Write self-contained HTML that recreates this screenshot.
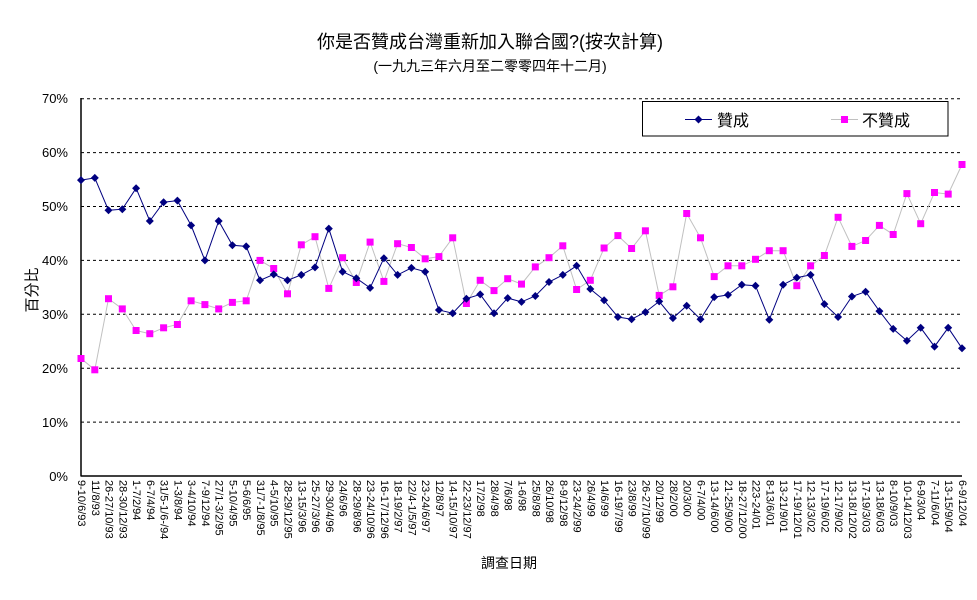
<!DOCTYPE html>
<html><head><meta charset="utf-8"><style>
html,body{margin:0;padding:0;background:#fff;}
svg{display:block;font-family:"Liberation Sans","Noto Sans CJK TC",sans-serif;}
</style></head><body>
<svg width="977" height="600" viewBox="0 0 977 600" xmlns="http://www.w3.org/2000/svg">
<defs>
<marker id="dia" markerUnits="userSpaceOnUse" markerWidth="10" markerHeight="10" refX="5" refY="5" viewBox="0 0 10 10"><path d="M5 1 L9 5 L5 9 L1 5 Z" fill="#000080"/></marker>
<marker id="sq" markerUnits="userSpaceOnUse" markerWidth="8" markerHeight="8" refX="4" refY="4" viewBox="0 0 8 8"><rect x="0.5" y="0.5" width="7" height="7" fill="#ff00ff"/></marker>
</defs>
<text x="490" y="48" font-size="18" text-anchor="middle">你是否贊成台灣重新加入聯合國?(按次計算)</text>
<text x="490" y="71" font-size="14" text-anchor="middle">(一九九三年六月至二零零四年十二月)</text>
<g stroke="#000" stroke-dasharray="3,3" stroke-width="1">
<line x1="81" y1="98.7" x2="962" y2="98.7"/><line x1="81" y1="152.6" x2="962" y2="152.6"/><line x1="81" y1="206.5" x2="962" y2="206.5"/><line x1="81" y1="260.4" x2="962" y2="260.4"/><line x1="81" y1="314.3" x2="962" y2="314.3"/><line x1="81" y1="368.2" x2="962" y2="368.2"/><line x1="81" y1="422.1" x2="962" y2="422.1"/>
</g>
<line x1="81" y1="98" x2="81" y2="476.5" stroke="#000" stroke-width="1.5"/>
<line x1="81" y1="476" x2="962" y2="476" stroke="#000" stroke-width="1.5"/>
<g font-size="13" text-anchor="end">
<text x="68" y="103">70%</text><text x="68" y="157">60%</text><text x="68" y="211">50%</text><text x="68" y="265">40%</text><text x="68" y="319">30%</text><text x="68" y="373">20%</text><text x="68" y="427">10%</text><text x="68" y="481">0%</text>
</g>
<text transform="translate(37,290) rotate(-90)" font-size="15" text-anchor="middle">百分比</text>
<text x="509" y="568" font-size="14" text-anchor="middle">調查日期</text>
<polyline fill="none" stroke="#c0c0c0" stroke-width="1" marker-start="url(#sq)" marker-mid="url(#sq)" marker-end="url(#sq)" points="81.0,358.5 94.8,369.8 108.5,298.7 122.3,308.9 136.1,330.5 149.8,333.7 163.6,327.8 177.4,324.5 191.1,300.8 204.9,304.6 218.7,308.9 232.4,302.4 246.2,300.8 260.0,260.4 273.7,268.5 287.5,293.8 301.3,244.8 315.0,236.7 328.8,288.4 342.6,257.7 356.3,282.5 370.1,242.1 383.9,281.4 397.6,243.7 411.4,247.5 425.2,258.8 438.9,256.6 452.7,237.8 466.4,303.5 480.2,280.3 494.0,290.6 507.7,278.7 521.5,284.1 535.3,266.9 549.0,257.7 562.8,245.8 576.6,289.5 590.3,280.3 604.1,248.0 617.9,235.6 631.6,248.5 645.4,230.8 659.2,295.4 672.9,286.8 686.7,213.5 700.5,237.8 714.2,276.6 728.0,265.8 741.8,265.8 755.5,259.3 769.3,250.7 783.1,250.7 796.8,285.7 810.6,265.8 824.4,255.5 838.1,217.3 851.9,246.4 865.6,240.5 879.4,225.4 893.2,234.5 906.9,193.6 920.7,223.7 934.5,192.5 948.2,194.1 962.0,164.5"/>
<polyline fill="none" stroke="#000080" stroke-width="1" marker-start="url(#dia)" marker-mid="url(#dia)" marker-end="url(#dia)" points="81.0,180.1 94.8,177.9 108.5,210.3 122.3,209.2 136.1,188.2 149.8,221.0 163.6,202.2 177.4,200.6 191.1,225.4 204.9,260.4 218.7,221.0 232.4,245.3 246.2,246.4 260.0,280.3 273.7,274.4 287.5,280.3 301.3,274.9 315.0,267.4 328.8,228.6 342.6,271.7 356.3,278.2 370.1,287.9 383.9,258.2 397.6,274.9 411.4,267.9 425.2,271.7 438.9,310.0 452.7,313.2 466.4,298.7 480.2,294.4 494.0,313.2 507.7,298.1 521.5,301.9 535.3,296.0 549.0,282.0 562.8,274.9 576.6,265.8 590.3,289.0 604.1,300.3 617.9,317.0 631.6,319.2 645.4,312.1 659.2,301.4 672.9,318.1 686.7,305.7 700.5,319.2 714.2,297.1 728.0,294.9 741.8,284.7 755.5,285.7 769.3,319.7 783.1,284.7 796.8,277.6 810.6,274.9 824.4,304.1 838.1,317.0 851.9,296.5 865.6,291.7 879.4,311.1 893.2,328.9 906.9,340.7 920.7,327.8 934.5,346.6 948.2,327.8 962.0,348.3"/>
<rect x="642.5" y="101.5" width="305.5" height="34.5" fill="#fff" stroke="#000" stroke-width="1"/>
<line x1="685" y1="119.5" x2="712" y2="119.5" stroke="#000080"/>
<path d="M698.5 115.5 L702.5 119.5 L698.5 123.5 L694.5 119.5 Z" fill="#000080"/>
<text x="717" y="126" font-size="16">贊成</text>
<line x1="831" y1="119.5" x2="858" y2="119.5" stroke="#c0c0c0"/>
<rect x="841" y="116" width="7" height="7" fill="#ff00ff"/>
<text x="862" y="126" font-size="16">不贊成</text>
<g font-size="11" dominant-baseline="central">
<text transform="translate(81.0,480) rotate(90)">9-10/6/93</text>
<text transform="translate(94.8,480) rotate(90)">11/8/93</text>
<text transform="translate(108.5,480) rotate(90)">26-27/10/93</text>
<text transform="translate(122.3,480) rotate(90)">28-30/12/93</text>
<text transform="translate(136.1,480) rotate(90)">1-7/2/94</text>
<text transform="translate(149.8,480) rotate(90)">6-7/4/94</text>
<text transform="translate(163.6,480) rotate(90)">31/5-1/6-/94</text>
<text transform="translate(177.4,480) rotate(90)">1-3/8/94</text>
<text transform="translate(191.1,480) rotate(90)">3-4/10/94</text>
<text transform="translate(204.9,480) rotate(90)">7-9/12/94</text>
<text transform="translate(218.7,480) rotate(90)">27/1-3/2/95</text>
<text transform="translate(232.4,480) rotate(90)">5-10/4/95</text>
<text transform="translate(246.2,480) rotate(90)">5-6/6/95</text>
<text transform="translate(260.0,480) rotate(90)">31/7-1/8/95</text>
<text transform="translate(273.7,480) rotate(90)">4-5/10/95</text>
<text transform="translate(287.5,480) rotate(90)">28-29/12/95</text>
<text transform="translate(301.3,480) rotate(90)">13-15/3/96</text>
<text transform="translate(315.0,480) rotate(90)">25-27/3/96</text>
<text transform="translate(328.8,480) rotate(90)">29-30/4/96</text>
<text transform="translate(342.6,480) rotate(90)">24/6/96</text>
<text transform="translate(356.3,480) rotate(90)">28-29/8/96</text>
<text transform="translate(370.1,480) rotate(90)">23-24/10/96</text>
<text transform="translate(383.9,480) rotate(90)">16-17/12/96</text>
<text transform="translate(397.6,480) rotate(90)">18-19/2/97</text>
<text transform="translate(411.4,480) rotate(90)">22/4-1/5/97</text>
<text transform="translate(425.2,480) rotate(90)">23-24/6/97</text>
<text transform="translate(438.9,480) rotate(90)">12/8/97</text>
<text transform="translate(452.7,480) rotate(90)">14-15/10/97</text>
<text transform="translate(466.4,480) rotate(90)">22-23/12/97</text>
<text transform="translate(480.2,480) rotate(90)">17/2/98</text>
<text transform="translate(494.0,480) rotate(90)">28/4/98</text>
<text transform="translate(507.7,480) rotate(90)">7/6/98</text>
<text transform="translate(521.5,480) rotate(90)">1-6/98</text>
<text transform="translate(535.3,480) rotate(90)">25/8/98</text>
<text transform="translate(549.0,480) rotate(90)">26/10/98</text>
<text transform="translate(562.8,480) rotate(90)">8-9/12/98</text>
<text transform="translate(576.6,480) rotate(90)">23-24/2/99</text>
<text transform="translate(590.3,480) rotate(90)">26/4/99</text>
<text transform="translate(604.1,480) rotate(90)">14/6/99</text>
<text transform="translate(617.9,480) rotate(90)">16-19/7/99</text>
<text transform="translate(631.6,480) rotate(90)">23/8/99</text>
<text transform="translate(645.4,480) rotate(90)">26-27/10/99</text>
<text transform="translate(659.2,480) rotate(90)">20/12/99</text>
<text transform="translate(672.9,480) rotate(90)">28/2/00</text>
<text transform="translate(686.7,480) rotate(90)">20/3/00</text>
<text transform="translate(700.5,480) rotate(90)">6-7/4/00</text>
<text transform="translate(714.2,480) rotate(90)">13-14/6/00</text>
<text transform="translate(728.0,480) rotate(90)">21-25/9/00</text>
<text transform="translate(741.8,480) rotate(90)">18-27/12/00</text>
<text transform="translate(755.5,480) rotate(90)">223-24/01</text>
<text transform="translate(769.3,480) rotate(90)">8-13/6/01</text>
<text transform="translate(783.1,480) rotate(90)">13-21/9/01</text>
<text transform="translate(796.8,480) rotate(90)">17-19/12/01</text>
<text transform="translate(810.6,480) rotate(90)">12-13/3/02</text>
<text transform="translate(824.4,480) rotate(90)">17-19/6/02</text>
<text transform="translate(838.1,480) rotate(90)">12-17/9/02</text>
<text transform="translate(851.9,480) rotate(90)">13-18/12/02</text>
<text transform="translate(865.6,480) rotate(90)">17-19/3/03</text>
<text transform="translate(879.4,480) rotate(90)">13-18/6/03</text>
<text transform="translate(893.2,480) rotate(90)">8-10/9/03</text>
<text transform="translate(906.9,480) rotate(90)">10-14/12/03</text>
<text transform="translate(920.7,480) rotate(90)">6-9/3/04</text>
<text transform="translate(934.5,480) rotate(90)">7-11/6/04</text>
<text transform="translate(948.2,480) rotate(90)">13-15/9/04</text>
<text transform="translate(962.0,480) rotate(90)">6-9/12/04</text>
</g>
</svg>
</body></html>
